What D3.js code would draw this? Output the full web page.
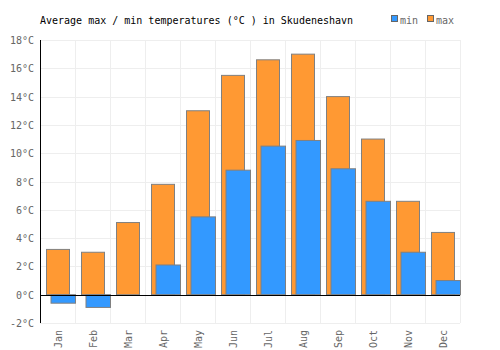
<!DOCTYPE html>
<html>
<head>
<meta charset="utf-8">
<script src="https://cdn.jsdelivr.net/npm/d3@7"></script>
<style>
  body { margin: 0; background: #fff; }
  text { font-family: "DejaVu Sans Mono", monospace; }
</style>
</head>
<body>
<div id="chart"></div>
<script>
// data
const months = ["Jan", "Feb", "Mar", "Apr", "May", "Jun", "Jul", "Aug", "Sep", "Oct", "Nov", "Dec"];
const maxTemps = [3.2, 3.0, 5.1, 7.8, 13.0, 15.5, 16.6, 17.0, 14.0, 11.0, 6.6, 4.4];
const minTemps = [-0.6, -0.9, 0, 2.1, 5.5, 8.8, 10.5, 10.9, 8.9, 6.6, 3.0, 1.0];
const yTicks = [-2, 0, 2, 4, 6, 8, 10, 12, 14, 16, 18];

const W = 500, H = 350;
const margin = { top: 40, right: 40, bottom: 27, left: 40 };
const innerW = W - margin.left - margin.right;
const innerH = H - margin.top - margin.bottom;

const svg = d3.select("#chart").append("svg")
  .attr("width", W)
  .attr("height", H);

const g = svg.append("g")
  .attr("transform", `translate(${margin.left},${margin.top})`);

const x = d3.scaleBand().domain(months).range([0, innerW]);
const y = d3.scaleLinear().domain([-2, 18]).range([innerH, 0]);
const bw = x.bandwidth();

// grid
g.append("g")
  .selectAll("line.h")
  .data(yTicks)
  .enter().append("line")
  .attr("x1", 0).attr("x2", innerW)
  .attr("y1", d => Math.round(y(d)) + 0.5).attr("y2", d => Math.round(y(d)) + 0.5)
  .attr("stroke", "#eee");

g.append("g")
  .selectAll("line.v")
  .data(months)
  .enter().append("line")
  .attr("x1", d => Math.round(x(d) + bw) + 0.5).attr("x2", d => Math.round(x(d) + bw) + 0.5)
  .attr("y1", 0).attr("y2", innerH)
  .attr("stroke", "#eee");

// max bars
g.selectAll(".maxbar")
  .data(months)
  .enter().append("rect")
  .attr("class", "maxbar")
  .attr("x", d => x(d) + 6.5)
  .attr("width", 23)
  .attr("y", (d, i) => y(Math.max(0, maxTemps[i])))
  .attr("height", (d, i) => Math.abs(y(maxTemps[i]) - y(0)))
  .attr("fill", "#ff9933")
  .attr("stroke", "#808080")
  .attr("stroke-width", 1);

// min bars
g.selectAll(".minbar")
  .data(months)
  .enter().append("rect")
  .attr("class", "minbar")
  .attr("x", d => x(d) + 11)
  .attr("width", 24.5)
  .attr("y", (d, i) => y(Math.max(0, minTemps[i])))
  .attr("height", (d, i) => Math.abs(y(minTemps[i]) - y(0)))
  .attr("fill", "#3399ff")
  .attr("stroke", "#808080")
  .attr("stroke-width", 1)
  .style("display", (d, i) => minTemps[i] === 0 ? "none" : null);

// zero line and y axis line
g.append("line")
  .attr("x1", 0).attr("x2", innerW)
  .attr("y1", Math.round(y(0)) + 0.5).attr("y2", Math.round(y(0)) + 0.5)
  .attr("stroke", "#000");

g.append("line")
  .attr("x1", 0.5).attr("x2", 0.5)
  .attr("y1", 0).attr("y2", innerH)
  .attr("stroke", "#000");

// y labels
g.append("g")
  .selectAll("text")
  .data(yTicks)
  .enter().append("text")
  .attr("x", -6)
  .attr("y", d => y(d) + 4)
  .attr("text-anchor", "end")
  .style("font-size", "10px")
  .style("fill", "#666")
  .text(d => d + "°C");

// x labels
g.append("g")
  .selectAll("text")
  .data(months)
  .enter().append("text")
  .attr("transform", d => `translate(${x(d) + bw / 2 + 4},${innerH + 7}) rotate(-90)`)
  .attr("text-anchor", "end")
  .style("font-size", "10px")
  .style("fill", "#666")
  .text(d => d);

// title
svg.append("text")
  .attr("x", 40)
  .attr("y", 24)
  .style("font-size", "10px")
  .style("fill", "#000")
  .text("Average max / min temperatures (°C ) in Skudeneshavn");

// legend
const legend = [
  { name: "min", color: "#3399ff", x: 391 },
  { name: "max", color: "#ff9933", x: 427 }
];
const lg = svg.append("g").selectAll("g")
  .data(legend)
  .enter().append("g");
lg.append("rect")
  .attr("x", d => d.x + 0.5)
  .attr("y", 15.5)
  .attr("width", 6)
  .attr("height", 6)
  .attr("fill", d => d.color)
  .attr("stroke", "#666");
lg.append("text")
  .attr("x", d => d.x + 9)
  .attr("y", 24)
  .style("font-size", "10px")
  .style("fill", "#666")
  .text(d => d.name);
</script>
</body>
</html>
